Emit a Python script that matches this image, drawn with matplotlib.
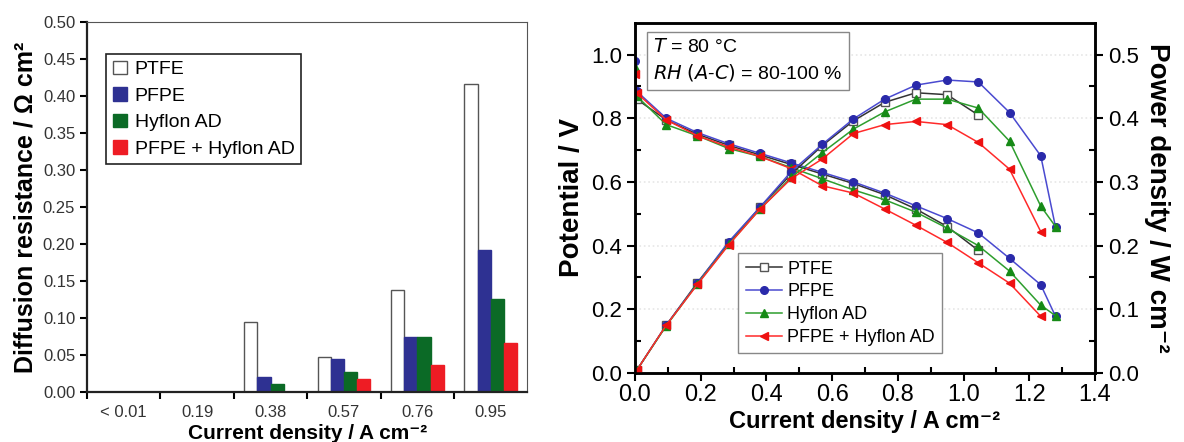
import numpy as np
import matplotlib
matplotlib.use("Agg")
import matplotlib.pyplot as plt
from matplotlib.ticker import FixedLocator

# fonts
REG = ["Liberation Sans", "DejaVu Sans"]
plt.rcParams["font.family"] = REG

# --- left panel: diffusion resistance ---
groups = ["< 0.01", "0.19", "0.38", "0.57", "0.76", "0.95"]
r_ptfe = [0.0, 0.0, 0.095, 0.047, 0.138, 0.416]
r_pfpe = [0.0, 0.0, 0.021, 0.045, 0.075, 0.192]
r_hyf = [0.0, 0.0, 0.011, 0.027, 0.074, 0.126]
r_mix = [0.0, 0.0, 0.0, 0.017, 0.036, 0.066]

# --- right panel: polarisation + power curves ---
i_ptfe = [0.005, 0.095, 0.19, 0.285, 0.38, 0.475, 0.57, 0.665, 0.76, 0.855, 0.95, 1.045]
v_ptfe = [0.86, 0.795, 0.75, 0.715, 0.685, 0.655, 0.625, 0.595, 0.56, 0.515, 0.46, 0.385]
p_ptfe = [0.004, 0.075, 0.142, 0.204, 0.26, 0.312, 0.357, 0.396, 0.425, 0.44, 0.437, 0.405]

i_pfpe = [0.0, 0.005, 0.095, 0.19, 0.285, 0.38, 0.475, 0.57, 0.665, 0.76, 0.855, 0.95, 1.045, 1.14, 1.235, 1.28]
v_pfpe = [0.98, 0.885, 0.80, 0.755, 0.72, 0.69, 0.66, 0.63, 0.60, 0.565, 0.525, 0.485, 0.44, 0.36, 0.277, 0.178]
p_pfpe = [0.0, 0.004, 0.075, 0.141, 0.206, 0.26, 0.316, 0.359, 0.399, 0.43, 0.452, 0.46, 0.457, 0.409, 0.341, 0.229]

i_hyf = [0.0, 0.005, 0.095, 0.19, 0.285, 0.38, 0.475, 0.57, 0.665, 0.76, 0.855, 0.95, 1.045, 1.14, 1.235, 1.28]
v_hyf = [0.96, 0.87, 0.78, 0.745, 0.705, 0.68, 0.645, 0.61, 0.575, 0.544, 0.505, 0.455, 0.40, 0.32, 0.213, 0.18]
p_hyf = [0.0, 0.004, 0.074, 0.14, 0.202, 0.257, 0.307, 0.346, 0.383, 0.41, 0.43, 0.43, 0.416, 0.364, 0.262, 0.23]

i_mix = [0.0, 0.005, 0.095, 0.19, 0.285, 0.38, 0.475, 0.57, 0.665, 0.76, 0.855, 0.95, 1.045, 1.14, 1.235]
v_mix = [0.94, 0.88, 0.795, 0.745, 0.71, 0.68, 0.642, 0.588, 0.565, 0.515, 0.464, 0.41, 0.346, 0.282, 0.178]
p_mix = [0.0, 0.004, 0.075, 0.139, 0.201, 0.257, 0.305, 0.336, 0.376, 0.39, 0.395, 0.39, 0.362, 0.32, 0.222]

labels = ["PTFE", "PFPE", "Hyflon AD", "PFPE + Hyflon AD"]
bar_cols = ["white", "#2e3192", "#0b6a26", "#ee1c24"]

res_ticks = np.arange(0, 0.501, 0.05)
cd_ticks = np.arange(0, 1.41, 0.2)
pot_ticks = np.arange(0, 1.01, 0.2)
pow_ticks = np.arange(0, 0.51, 0.1)

fig = plt.figure(figsize=(11.84, 4.42), dpi=100)

# ======== left ========
ax = fig.add_axes([0.0735, 0.113, 0.372, 0.837])
x = np.arange(len(groups))
w = 0.18
for k, vals in enumerate([r_ptfe, r_pfpe, r_hyf, r_mix]):
    ec = "#555555" if k == 0 else bar_cols[k]
    ax.bar(x + (k - 1.5) * w, vals, w, color=bar_cols[k], edgecolor=ec,
           linewidth=1.0, label=labels[k])
ax.set_xlim(-0.5, 5.5)
ax.set_ylim(0, 0.5)
ax.set_yticks(res_ticks)
ax.set_yticklabels([f"{v:.2f}" for v in res_ticks])
ax.set_xticks(x)
ax.set_xticklabels(groups)
ax.xaxis.set_minor_locator(FixedLocator(np.arange(-0.5, 5.0, 1.0)))
ax.tick_params(axis="x", which="major", length=0, labelsize=12, pad=9, labelcolor="#333333")
ax.tick_params(axis="x", which="minor", length=5, width=1.5, direction="out")
ax.tick_params(axis="y", length=5, width=1.5, labelsize=12, labelcolor="#333333")
for s in ["left", "bottom"]:
    ax.spines[s].set_linewidth(1.6)
    ax.spines[s].set_color("#222222")
for s in ["top", "right"]:
    ax.spines[s].set_linewidth(0.8)
    ax.spines[s].set_color("#555555")
ax.set_xlabel("Current density / A cm⁻²", fontsize=15, fontweight="bold", labelpad=3)
ax.set_ylabel("Diffusion resistance / Ω cm²", fontsize=18, fontweight="bold", labelpad=4)
leg = ax.legend(loc="upper left", bbox_to_anchor=(0.022, 0.94), fontsize=14,
                handlelength=0.7, handleheight=0.7, handletextpad=0.4,
                labelspacing=0.45, borderpad=0.35, fancybox=False, framealpha=1)
leg.get_frame().set_edgecolor("#222222")
leg.get_frame().set_linewidth(1.2)

# ======== right ========
bx = fig.add_axes([0.5363, 0.1561, 0.3885, 0.7925])
bx2 = bx.twinx()

styles = [
    ("#333333", "s", "white", "#555555", i_ptfe, v_ptfe, p_ptfe),
    ("#4a4ad0", "o", "#2a2aaa", "#2a2aaa", i_pfpe, v_pfpe, p_pfpe),
    ("#2e9e2e", "^", "#168a16", "#168a16", i_hyf, v_hyf, p_hyf),
    ("#ff2a2a", "<", "#ee1111", "#ee1111", i_mix, v_mix, p_mix),
]
for k, (lc, mk, mf, me, ii, vv, pp) in enumerate(styles):
    bx.plot(ii, vv, color=lc, marker=mk, mfc=mf, mec=me, ms=5.5, lw=1.1, label=labels[k])
    bx2.plot(ii, pp, color=lc, marker=mk, mfc=mf, mec=me, ms=5.5, lw=1.1)

bx.set_xlim(0, 1.4)
bx.set_ylim(0, 1.1)
bx2.set_ylim(0, 0.55)
bx.set_xticks(cd_ticks)
bx.set_xticklabels([f"{v:.1f}" for v in cd_ticks])
bx.set_yticks(pot_ticks)
bx.set_yticklabels([f"{v:.1f}" for v in pot_ticks])
bx2.set_yticks(pow_ticks)
bx2.set_yticklabels([f"{v:.1f}" for v in pow_ticks])
bx.xaxis.set_minor_locator(FixedLocator(np.arange(0.1, 1.4, 0.2)))
bx.yaxis.set_minor_locator(FixedLocator(np.arange(0.1, 1.1, 0.2)))
bx2.yaxis.set_minor_locator(FixedLocator(np.arange(0.05, 0.55, 0.1)))
bx.tick_params(axis="both", which="major", direction="out", length=6, width=1.5, labelsize=16)
bx.tick_params(axis="both", which="minor", direction="in", length=4, width=1.5)
bx2.tick_params(axis="y", which="major", direction="out", length=6, width=1.5, labelsize=16)
bx2.tick_params(axis="y", which="minor", direction="in", length=4, width=1.5)
bx.tick_params(axis="x", labelsize=17, pad=2)
for a in (bx, bx2):
    for s in a.spines.values():
        s.set_linewidth(1.8)
bx.grid(axis="y", which="major", color="#e6e6e6", linestyle=":", linewidth=1.2)
bx.set_axisbelow(True)

bx.set_xlabel("Current density / A cm⁻²", fontsize=17, fontweight="bold", labelpad=3)
bx.set_ylabel("Potential / V", fontsize=20, fontweight="bold", labelpad=4)
bx2.set_ylabel("Power density / W cm⁻²", fontsize=20, fontweight="bold",
               rotation=270, labelpad=22)

bx.text(0.04, 0.955, "$T$ = 80 °C\n$RH$ $(A$-$C)$ = 80-100 %", transform=bx.transAxes,
        va="top", ha="left", fontsize=14, linespacing=1.35,
        bbox=dict(boxstyle="square,pad=0.35", fc="white", ec="#888888", lw=1.0))

leg2 = bx.legend(loc="lower left", bbox_to_anchor=(0.205, 0.031), fontsize=13,
                 handlelength=2.0, handletextpad=0.3, labelspacing=0.32, borderpad=0.4,
                 fancybox=False, framealpha=1)
leg2.get_frame().set_edgecolor("#888888")
leg2.get_frame().set_linewidth(1.0)

fig.savefig("out.png", dpi=100)
